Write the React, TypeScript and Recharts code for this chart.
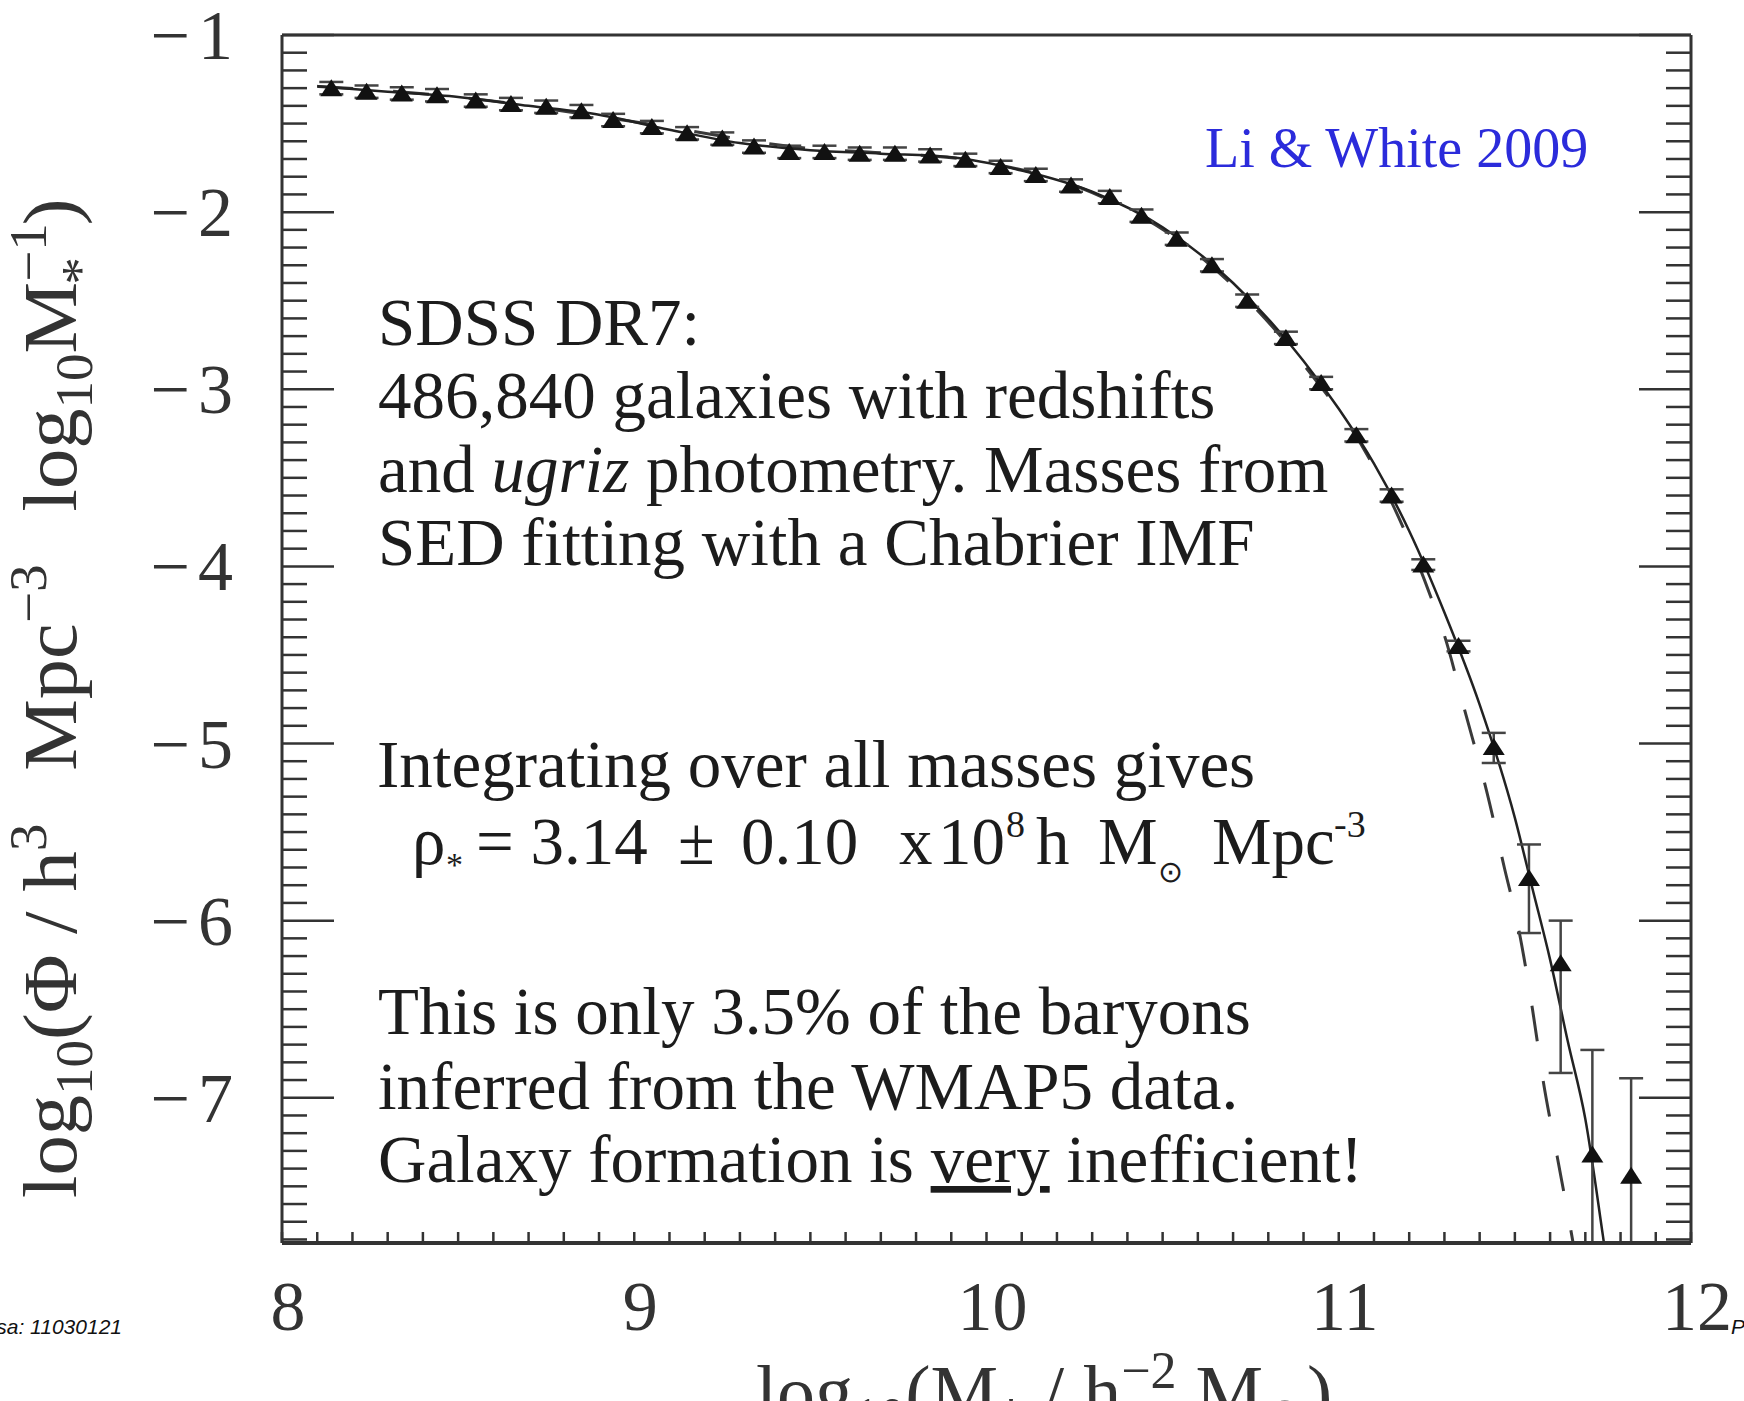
import { ComposedChart, ErrorBar, Line, Scatter, XAxis, YAxis } from "recharts";

// SDSS DR7 stellar mass function, binned measurements (log10 M*, log10 phi)
const massBins = [
  8.14, 8.24, 8.34, 8.44, 8.55, 8.65, 8.75, 8.85, 8.94, 9.05, 9.15, 9.25, 9.34,
  9.44, 9.54, 9.64, 9.74, 9.84, 9.94, 10.04, 10.14, 10.24, 10.35, 10.44, 10.54,
  10.64, 10.74, 10.85, 10.95, 11.05, 11.15, 11.24, 11.34, 11.44, 11.54, 11.63,
  11.72, 11.83
];
const logPhi = [
  -1.3, -1.32, -1.33, -1.34, -1.37, -1.39, -1.405, -1.43, -1.48, -1.52, -1.555,
  -1.585, -1.63, -1.66, -1.66, -1.67, -1.67, -1.68, -1.705, -1.745, -1.79, -1.85,
  -1.915, -2.02, -2.15, -2.3, -2.5, -2.71, -2.965, -3.26, -3.6, -3.99, -4.45,
  -5.02, -5.76, -6.24, -7.32, -7.44
];
// the last two lower bars run down to the bottom of the axis range
const errDown = [
  0.035, 0.035, 0.035, 0.035, 0.035, 0.035, 0.035, 0.035, 0.035, 0.035, 0.035,
  0.035, 0.035, 0.035, 0.035, 0.035, 0.035, 0.035, 0.035, 0.035, 0.035, 0.035,
  0.035, 0.035, 0.035, 0.035, 0.035, 0.035, 0.035, 0.035, 0.035, 0.03, 0.03,
  0.09, 0.31, 0.62, 0.5, 0.38
];
const errUp = [
  0.035, 0.035, 0.035, 0.035, 0.035, 0.035, 0.035, 0.035, 0.035, 0.035, 0.035,
  0.035, 0.035, 0.035, 0.035, 0.035, 0.035, 0.035, 0.035, 0.035, 0.035, 0.035,
  0.035, 0.035, 0.035, 0.035, 0.035, 0.035, 0.035, 0.035, 0.035, 0.03, 0.03,
  0.08, 0.19, 0.24, 0.59, 0.55
];

// best-fit model (solid)
const fitMass = [
  8.1, 8.3, 8.5, 8.7, 8.9, 9.1, 9.3, 9.5, 9.7, 9.9, 10.1, 10.3, 10.5, 10.7, 10.9,
  11.0, 11.1, 11.2, 11.3, 11.4, 11.5, 11.55, 11.6, 11.65, 11.7, 11.75, 11.78
];
const fitPhi = [
  -1.29, -1.32, -1.35, -1.4, -1.45, -1.535, -1.61, -1.65, -1.67, -1.69, -1.765,
  -1.885, -2.085, -2.4, -2.84, -3.11, -3.42, -3.8, -4.26, -4.78, -5.42, -5.82,
  -6.22, -6.68, -7.12, -7.78, -8.2
];

// alternative model (dashed)
const altMass = [
  8.1, 8.5, 9.0, 9.5, 9.7, 10.0, 10.3, 10.6, 10.9, 11.1, 11.2, 11.27, 11.3,
  11.36, 11.42, 11.47, 11.51, 11.55, 11.58, 11.62, 11.66, 11.69
];
const altPhi = [
  -1.29, -1.35, -1.49, -1.64, -1.665, -1.72, -1.89, -2.24, -2.86, -3.44, -3.86,
  -4.22, -4.39, -4.83, -5.27, -5.7, -6.04, -6.5, -6.9, -7.33, -7.76, -8.1
];

const xMajor = [8, 9, 10, 11, 12];
const yMajor = [-1, -2, -3, -4, -5, -6, -7];
const xDomain = [8, 12];
const yDomain = [-7.82, -1];

const xMinor = Array.from({ length: 41 }, (_, i) => Math.round((8 + i * 0.1) * 10) / 10);
const yMinor = Array.from({ length: 69 }, (_, i) => Math.round((-7.8 + i * 0.1) * 10) / 10);

const points = massBins.map((x, i) => ({ x, y: logPhi[i], err: [errDown[i], errUp[i]] }));
const fitData = fitMass.map((x, i) => ({ x, y: fitPhi[i] }));
const altData = altMass.map((x, i) => ({ x, y: altPhi[i] }));

const W = 1744;
const H = 1401;
const SERIF = "'Liberation Serif', 'Times New Roman', serif";
const INK = "#333";
const TEXT = "#1c1c1c";

const isMajorX = (v: number) => xMajor.some((m) => Math.abs(m - v) < 1e-6);
const isMajorY = (v: number) => yMajor.some((m) => Math.abs(m - v) < 1e-6);

function BottomTick({ x, y, payload }: any) {
  const v = payload.value;
  return (
    <g>
      <line x1={x} x2={x} y1={y} y2={y - 11} stroke={INK} strokeWidth={2.5} />
      {isMajorX(v) && (
        <text x={x + 6} y={y + 87} textAnchor="middle" fontFamily={SERIF} fontSize={70} fill={INK}>
          {Math.round(v)}
        </text>
      )}
    </g>
  );
}

function TopTick({ x, y, payload }: any) {
  const len = isMajorX(payload.value) ? 47 : 23;
  return <line x1={x} x2={x} y1={y} y2={y + len} stroke={INK} strokeWidth={2.5} />;
}

function LeftTick({ x, y, payload }: any) {
  const v = payload.value;
  const major = isMajorY(v);
  return (
    <g>
      <line x1={x} x2={x + (major ? 52 : 25)} y1={y} y2={y} stroke={INK} strokeWidth={2.5} />
      {major && (
        <text x={x - 49} y={y + 24} textAnchor="end" fontFamily={SERIF} fontSize={70} fill={INK}>
          {"\u2212"}
          <tspan dx={8}>{Math.abs(Math.round(v))}</tspan>
        </text>
      )}
    </g>
  );
}

function RightTick({ x, y, payload }: any) {
  const len = isMajorY(payload.value) ? 52 : 25;
  return <line x1={x} x2={x - len} y1={y} y2={y} stroke={INK} strokeWidth={2.5} />;
}

function Triangle({ cx, cy }: any) {
  if (cx == null || cy == null) return null;
  return (
    <polygon
      points={`${cx - 11},${cy + 8} ${cx + 11},${cy + 8} ${cx},${cy - 9}`}
      fill="#111"
    />
  );
}

function Notes() {
  const t = { fontFamily: SERIF, fontSize: 67, fill: TEXT };
  return (
    <svg
      width={W}
      height={H}
      style={{ position: "absolute", left: 0, top: 0, pointerEvents: "none" }}
    >
      <text x={1205} y={167} fontFamily={SERIF} fontSize={56} fill="#2b2bdb">
        Li &amp; White 2009
      </text>

      <text x={378} y={345} {...t}>SDSS DR7:</text>
      <text x={378} y={418} {...t}>486,840 galaxies with redshifts</text>
      <text x={378} y={492} {...t}>
        and <tspan fontStyle="italic">ugriz</tspan> photometry. Masses from
      </text>
      <text x={378} y={565} {...t}>SED fitting with a Chabrier IMF</text>

      <text x={377} y={787} {...t}>Integrating over all masses gives</text>
      <text y={864} {...t}>
        <tspan x={412}>ρ</tspan>
        <tspan x={446} dy={12} fontSize={34}>*</tspan>
        <tspan x={476} dy={-12}>= 3.14</tspan>
        <tspan x={678}>±</tspan>
        <tspan x={741}>0.10</tspan>
        <tspan x={899}>x</tspan>
        <tspan x={938}>10</tspan>
        <tspan x={1006} dy={-27} fontSize={38}>8</tspan>
        <tspan x={1036} dy={27}>h</tspan>
        <tspan x={1098}>M</tspan>
        <tspan x={1158} dy={18} fontSize={30}>⊙</tspan>
        <tspan x={1212} dy={-18}>Mpc</tspan>
        <tspan x={1334} dy={-27} fontSize={38}>-3</tspan>
      </text>

      <text x={378} y={1034} {...t}>This is only 3.5% of the baryons</text>
      <text x={378} y={1109} {...t}>inferred from the WMAP5 data.</text>
      <text x={378} y={1182} {...t}>
        Galaxy formation is <tspan textDecoration="underline">very</tspan> inefficient!
      </text>

      {/* axis titles */}
      <text
        transform="translate(76 1198) rotate(-90) scale(1.06 1)"
        fontFamily={SERIF}
        fontSize={76}
        fill={INK}
      >
        log<tspan dy={16} fontSize={52}>10</tspan>
        <tspan dy={-16}>(Φ  /  h</tspan>
        <tspan dy={-30} fontSize={52}>3</tspan>
        <tspan dx={50} dy={30}>Mpc</tspan>
        <tspan dy={-30} fontSize={52}>−3</tspan>
        <tspan dx={50} dy={30}>log</tspan>
        <tspan dy={16} fontSize={52}>10</tspan>
        <tspan dy={-16}>M</tspan>
        <tspan dy={-30} fontSize={52}>−1</tspan>
        <tspan dx={-58} dy={52} fontSize={52}>*</tspan>
        <tspan dx={30} dy={-22}>)</tspan>
      </text>
      <text x={756} y={1418} fontFamily={SERIF} fontSize={76} fill={INK}>
        log<tspan dy={16} fontSize={52}>10</tspan>
        <tspan dy={-16}>(M</tspan>
        <tspan dy={16} fontSize={52}>*</tspan>
        <tspan dy={-16}>  /  h</tspan>
        <tspan dy={-30} fontSize={52}>−2</tspan>
        <tspan dy={30}> M</tspan>
        <tspan dy={16} fontSize={52}>⊙</tspan>
        <tspan dy={-16}>)</tspan>
      </text>

      <text
        x={122}
        y={1334}
        textAnchor="end"
        fontFamily="'Liberation Sans', Arial, sans-serif"
        fontStyle="italic"
        fontSize={21}
        fill="#111"
      >
        sa: 11030121
      </text>
      <text
        x={1731}
        y={1334}
        fontFamily="'Liberation Sans', Arial, sans-serif"
        fontStyle="italic"
        fontSize={21}
        fill="#111"
      >
        P
      </text>
    </svg>
  );
}

export default function App() {
  return (
    <div
      style={{
        position: "absolute",
        left: 0,
        top: 0,
        width: W,
        height: H,
        background: "#fff",
        overflow: "hidden"
      }}
    >
      <ComposedChart width={W} height={H} margin={{ top: 34, right: 52, bottom: 157, left: 281 }}>
        <XAxis
          dataKey="x"
          type="number"
          domain={xDomain}
          allowDataOverflow
          ticks={xMinor}
          interval={0}
          height={1}
          tickSize={0}
          tickMargin={0}
          tickLine={false}
          axisLine={{ stroke: INK, strokeWidth: 4 }}
          tick={<BottomTick />}
        />
        <XAxis
          xAxisId="top"
          orientation="top"
          type="number"
          domain={xDomain}
          allowDataOverflow
          ticks={xMinor}
          interval={0}
          height={1}
          tickSize={0}
          tickMargin={0}
          tickLine={false}
          axisLine={{ stroke: INK, strokeWidth: 3 }}
          tick={<TopTick />}
        />
        <YAxis
          type="number"
          domain={yDomain}
          allowDataOverflow
          ticks={yMinor}
          interval={0}
          width={1}
          tickSize={0}
          tickMargin={0}
          tickLine={false}
          axisLine={{ stroke: INK, strokeWidth: 3 }}
          tick={<LeftTick />}
        />
        <YAxis
          yAxisId="right"
          orientation="right"
          type="number"
          domain={yDomain}
          allowDataOverflow
          ticks={yMinor}
          interval={0}
          width={1}
          tickSize={0}
          tickMargin={0}
          tickLine={false}
          axisLine={{ stroke: INK, strokeWidth: 3 }}
          tick={<RightTick />}
        />
        <Line
          data={altData}
          dataKey="y"
          type="monotone"
          stroke="#3a3a3a"
          strokeWidth={3}
          strokeDasharray="36 40"
          dot={false}
          isAnimationActive={false}
        />
        <Line
          data={fitData}
          dataKey="y"
          type="monotone"
          stroke="#222"
          strokeWidth={2.5}
          dot={false}
          isAnimationActive={false}
        />
        <Scatter data={points} dataKey="y" shape={<Triangle />} isAnimationActive={false}>
          <ErrorBar dataKey="err" direction="y" width={12} stroke="#444" strokeWidth={2.5} />
        </Scatter>
      </ComposedChart>
      <Notes />
    </div>
  );
}
